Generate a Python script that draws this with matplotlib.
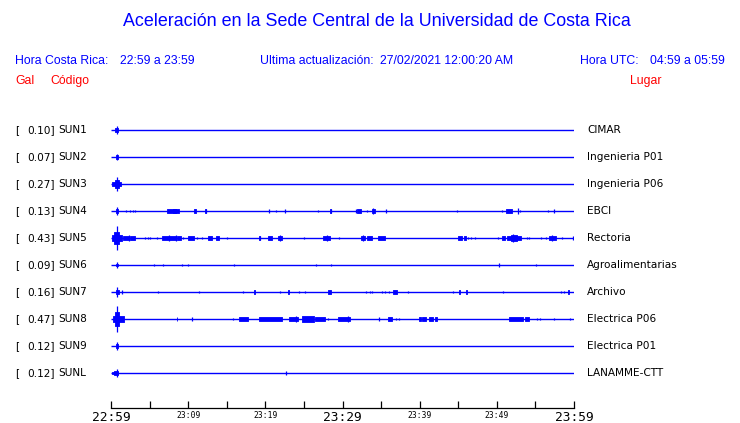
import matplotlib
matplotlib.use("Agg")
import matplotlib.pyplot as plt

# ---------------- data ----------------
TITLE = "Aceleración en la Sede Central de la Universidad de Costa Rica"
HORA_CR = "22:59 a 23:59"
ACTUALIZACION = "27/02/2021 12:00:20 AM"
HORA_UTC = "04:59 a 05:59"

codes = ["SUN1", "SUN2", "SUN3", "SUN4", "SUN5", "SUN6", "SUN7", "SUN8", "SUN9", "SUNL"]
gal = [0.10, 0.07, 0.27, 0.13, 0.43, 0.09, 0.16, 0.47, 0.12, 0.12]
places = ["CIMAR", "Ingenieria P01", "Ingenieria P06", "EBCI", "Rectoria",
          "Agroalimentarias", "Archivo", "Electrica P06", "Electrica P01", "LANAMME-CTT"]

tick_minutes = list(range(0, 61, 5))
tick_labels = ["22:59", "", "23:09", "", "23:19", "", "23:29", "", "23:39", "", "23:49", "", "23:59"]
big_labels = ["22:59", "23:29", "23:59"]

# events per station: (start minute, duration minute (0 = spike), half amplitude in relative units)
ev_sun1 = [(0.74, 0, 3.7), (0.58, 0.33, 1.5)]
ev_sun2 = [(0.74, 0, 2.7), (0.60, 0.30, 1.5)]
ev_sun3 = [(0.74, 0, 6.7), (0.17, 1.09, 2.0), (0.50, 0.50, 4.0)]
ev_sun4 = [(0.74, 0, 3.3), (0.60, 0.30, 1.5), (1.91, 0, 1.3), (2.50, 0, 1.2), (2.81, 0, 1.2),
           (3.07, 0, 1.2), (7.30, 1.51, 1.7), (8.00, 0.40, 2.0), (10.80, 0.25, 1.7), (12.27, 0, 1.7),
           (12.20, 0.15, 1.5), (20.52, 0, 1.5), (21.42, 0, 0.8), (22.59, 0, 1.5), (26.87, 0, 0.8),
           (28.47, 0, 1.5), (28.40, 0.15, 1.5), (31.75, 0, 1.5), (31.92, 0.44, 1.5), (33.22, 0, 0.8),
           (33.99, 0, 3.0), (33.80, 0.40, 1.5), (35.68, 0, 1.5), (44.88, 0, 1.3), (50.63, 0, 1.3),
           (51.19, 0.78, 1.5), (52.79, 0, 2.5), (53.05, 0, 0.8), (56.67, 0, 0.8), (57.45, 0, 1.5)]
ev_sun5 = [(0.74, 0, 11.3), (0.17, 1.20, 3.0), (0.40, 0.60, 5.0), (1.59, 0.74, 2.0), (2.33, 0, 2.5),
           (2.46, 0.65, 1.8), (4.41, 0, 0.8), (4.83, 0, 1.3), (5.09, 0, 1.3), (6.00, 0, 1.2),
           (6.65, 1.73, 1.8), (7.50, 0, 3.0), (8.40, 0, 3.0), (8.51, 0.56, 1.8), (9.29, 0, 1.0),
           (9.98, 0.74, 1.8), (11.18, 0, 1.3), (11.83, 0, 1.3), (12.61, 0.44, 1.8), (13.65, 0.35, 1.8),
           (15.07, 0, 1.3), (19.27, 0, 1.5), (19.20, 0.15, 1.5), (20.39, 0.44, 1.8), (21.68, 0.52, 1.8),
           (21.90, 0, 2.5), (25.05, 0, 0.8), (27.51, 0.87, 1.8), (28.00, 0, 3.0), (29.59, 0, 0.8),
           (32.40, 0.52, 1.8), (32.60, 0, 2.5), (33.22, 0.57, 1.8), (34.64, 0.87, 1.8), (45.01, 0.44, 1.8),
           (45.75, 0.26, 1.8), (46.30, 0, 1.2), (46.61, 0, 0.8), (47.17, 0, 1.3), (50.19, 0, 0.8),
           (50.67, 0.43, 1.8), (51.28, 1.85, 2.2), (51.80, 0.80, 3.0), (52.14, 0, 4.0), (53.95, 0, 0.8),
           (54.21, 0, 1.3), (55.73, 0, 1.3), (56.37, 0, 1.3), (56.80, 0.87, 1.8), (57.20, 0, 3.0),
           (58.41, 0, 0.8), (59.91, 0, 1.5)]
ev_sun6 = [(0.74, 0, 2.7), (0.65, 0.25, 1.3), (5.53, 0, 1.3), (6.70, 0, 1.3), (9.24, 0, 1.3),
           (10.02, 0, 1.3), (15.98, 0, 0.8), (26.61, 0, 1.3), (28.55, 0, 1.3), (50.32, 0, 1.8),
           (55.12, 0, 0.8)]
ev_sun7 = [(0.74, 0, 4.3), (0.60, 0.40, 1.5), (1.39, 0, 1.7), (6.13, 0, 0.8), (11.44, 0, 0.8),
           (17.15, 0, 0.8), (18.49, 0.13, 1.5), (21.94, 0, 0.8), (22.90, 0.13, 1.5), (24.40, 0, 0.8),
           (25.14, 0, 0.8), (28.08, 0.43, 1.5), (33.09, 0, 0.8), (33.60, 0, 1.3), (33.86, 0, 1.3),
           (35.16, 0, 1.3), (35.55, 0, 1.3), (35.99, 0, 1.3), (36.51, 0.52, 1.5), (38.53, 0, 1.3),
           (44.28, 0, 1.3), (45.10, 0.13, 1.5), (46.01, 0.13, 1.5), (50.84, 0, 1.3), (58.36, 0, 1.3),
           (58.71, 0, 1.3), (59.19, 0.13, 1.5)]
ev_sun8 = [(0.74, 0, 11.7), (0.30, 1.38, 3.0), (0.50, 0.50, 6.0), (8.51, 0.10, 1.5), (10.54, 0, 1.8),
           (15.81, 0, 1.3), (16.59, 1.20, 2.0), (19.22, 2.90, 2.0), (23.11, 1.16, 1.8), (24.00, 0, 3.0),
           (24.71, 1.60, 2.3), (26.44, 1.29, 1.8), (28.08, 0, 0.8), (29.46, 1.51, 1.8), (30.75, 0, 2.5),
           (34.69, 0, 1.5), (35.94, 0.52, 1.8), (36.90, 0, 1.3), (37.36, 0, 0.8), (39.95, 0.22, 1.5),
           (40.30, 0.52, 1.8), (41.17, 0.60, 1.8), (41.99, 0.30, 1.8), (51.58, 1.77, 2.0),
           (53.65, 0.52, 1.8), (55.17, 0, 1.3), (55.64, 0, 1.3), (57.45, 0, 0.8), (59.48, 0, 1.0)]
ev_sun9 = [(0.74, 0, 3.3), (0.60, 0.30, 1.5)]
ev_sunl = [(0.74, 0, 3.3), (0.17, 0.74, 1.3), (0.45, 0.40, 2.0), (22.72, 0, 1.5)]

events = [ev_sun1, ev_sun2, ev_sun3, ev_sun4, ev_sun5, ev_sun6, ev_sun7, ev_sun8, ev_sun9, ev_sunl]

# ---------------- figure ----------------
W, H = 740, 423
BLUE = (0, 0, 1)
RED = (1, 0, 0)
AMP_SCALE = 1.1 / 27.0        # relative amplitude units -> row spacing

fig = plt.figure(figsize=(W / 100, H / 100), dpi=100)

def px(x, y):
    return x / W, 1 - y / H

def ftext(x, y, s, **kw):
    fx, fy = px(x, y)
    fig.text(fx, fy, s, **kw)

HDR = dict(family="Liberation Sans")
HS = 8.8

ftext(377, 22, TITLE, ha="center", va="center", color=BLUE, fontsize=12.9, **HDR)
ftext(15, 61, "Hora Costa Rica:", ha="left", va="center", color=BLUE, fontsize=HS, **HDR)
ftext(120, 61, HORA_CR, ha="left", va="center", color=BLUE, fontsize=HS, **HDR)
ftext(260, 61, "Ultima actualización:", ha="left", va="center", color=BLUE, fontsize=HS, **HDR)
ftext(380, 61, ACTUALIZACION, ha="left", va="center", color=BLUE, fontsize=HS, **HDR)
ftext(580.5, 61, "Hora UTC:", ha="left", va="center", color=BLUE, fontsize=HS, **HDR)
ftext(650.5, 61, HORA_UTC, ha="left", va="center", color=BLUE, fontsize=HS, **HDR)
ftext(15, 81, "Gal", ha="left", va="center", color=RED, fontsize=HS, **HDR)
ftext(50, 81, "Código", ha="left", va="center", color=RED, fontsize=HS, **HDR)
ftext(630, 81, "Lugar", ha="left", va="center", color=RED, fontsize=HS, **HDR)

# axes: x in minutes, y in row index
x0, x1 = 111, 574
ytop, ybot = 117, 408
row0, rowstep = 130, 27
ax = fig.add_axes([x0 / W, 1 - ybot / H, (x1 - x0) / W, (ybot - ytop) / H])
ax.set_xlim(0, 60)
ax.set_ylim((ybot - row0) / rowstep, (ytop - row0) / rowstep)
ax.patch.set_alpha(0)

for i, evs in enumerate(events):
    ax.hlines(i, 0, 60, color=BLUE, lw=1.0)
    for (t, d, a) in evs:
        h = a * AMP_SCALE
        if d == 0:
            ax.vlines(t, i - h, i + h, color=BLUE, lw=0.9)
        else:
            ax.fill_between([t, t + d], i - h, i + h, color=BLUE, lw=0.6, edgecolor=BLUE)

for side in ("left", "right", "top"):
    ax.spines[side].set_visible(False)
ax.spines["bottom"].set_linewidth(0.9)
ax.set_yticks([])
ax.set_xticks(tick_minutes)
ax.set_xticklabels(tick_labels, family="DejaVu Sans Mono")
ax.tick_params(axis="x", direction="in", length=5, width=0.9, pad=2)
for lab in ax.get_xticklabels():
    lab.set_fontsize(9.3 if lab.get_text() in big_labels else 5.8)

# row labels
LBL = dict(family="DejaVu Sans", fontsize=7.6, color="black", va="center")
for i, (c, g, p) in enumerate(zip(codes, gal, places)):
    y = row0 + i * rowstep
    ftext(15, y, "[", ha="left", **LBL)
    ftext(54.5, y, f"{g:.2f}]", ha="right", **LBL)
    ftext(58.5, y, c, ha="left", **LBL)
    ftext(587, y, p, ha="left", **LBL)

fig.savefig("out.png", dpi=100)
